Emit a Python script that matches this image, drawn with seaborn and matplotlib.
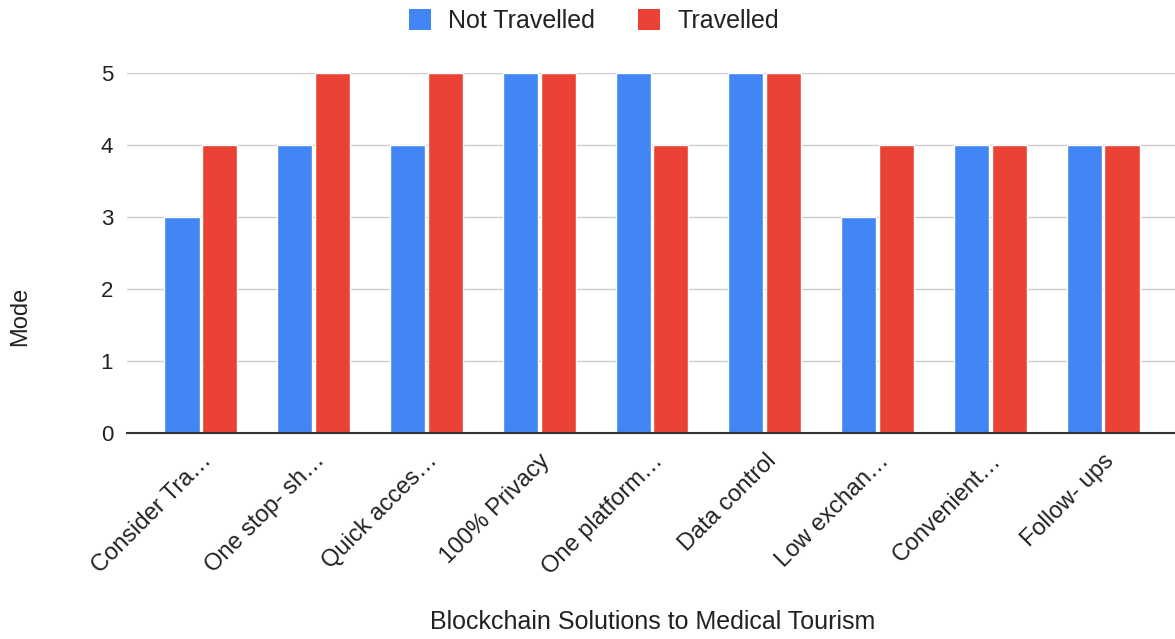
import pandas as pd
import seaborn as sns
import matplotlib.pyplot as plt
from matplotlib.patches import Patch

# Datos
categorias = ['Consider Tra…', 'One stop- sh…', 'Quick acces…', '100% Privacy',
              'One platform…', 'Data control', 'Low exchan…', 'Convenient…', 'Follow- ups']
not_travelled = [3, 4, 4, 5, 5, 5, 3, 4, 4]
travelled = [4, 5, 5, 5, 4, 5, 4, 4, 4]
series = ['Not Travelled', 'Travelled']
colores = ['#4285F4', '#EA4335']

df = pd.DataFrame({'Solucion': categorias * 2,
                   'Mode': not_travelled + travelled,
                   'Grupo': [series[0]] * len(categorias) + [series[1]] * len(categorias)})

sns.set_style('white')
plt.rcParams['font.family'] = ['Liberation Sans', 'DejaVu Sans']

fig = plt.figure(figsize=(11.75, 6.39), dpi=100)
ax = fig.add_axes([0.108, 0.3224, 0.892, 0.5634])

sns.barplot(data=df, x='Solucion', y='Mode', hue='Grupo', palette=colores,
            width=0.67, gap=0.07, saturation=1, ax=ax, legend=False)

ax.set_ylim(0, 5)
ax.set_xlim(-0.656, 8.637)
ax.set_yticks(range(0, 6))
ax.yaxis.grid(True, color='#cccccc', linewidth=1)
ax.set_axisbelow(True)
for s in ['top', 'right', 'left']:
    ax.spines[s].set_visible(False)
ax.spines['bottom'].set_color('#333333')
ax.spines['bottom'].set_linewidth(1.5)
ax.tick_params(axis='both', length=0, colors='#222222')
ax.tick_params(axis='y', pad=10, labelsize=16)
ax.tick_params(axis='x', pad=12, labelsize=17)
plt.setp(ax.get_xticklabels(), rotation=45, ha='right', rotation_mode='anchor')
ax.set_xlabel('')
ax.set_ylabel('')

fig.text(20 / 1175, 1 - 316 / 639, 'Mode', rotation=90, ha='center', va='center',
         fontsize=17, color='#222222')
fig.text(653 / 1175, 1 - 622 / 639, 'Blockchain Solutions to Medical Tourism',
         ha='center', va='center', fontsize=18, color='#222222')

handles = [Patch(facecolor=c, edgecolor='none') for c in colores]
fig.legend(handles, series, loc='center', bbox_to_anchor=(594 / 1175, 1 - 21 / 639),
           ncol=2, frameon=False, fontsize=18, handlelength=0.88, handleheight=0.88,
           columnspacing=1.7, handletextpad=0.72, labelcolor='#222222')

plt.savefig('out.png', dpi=100)
